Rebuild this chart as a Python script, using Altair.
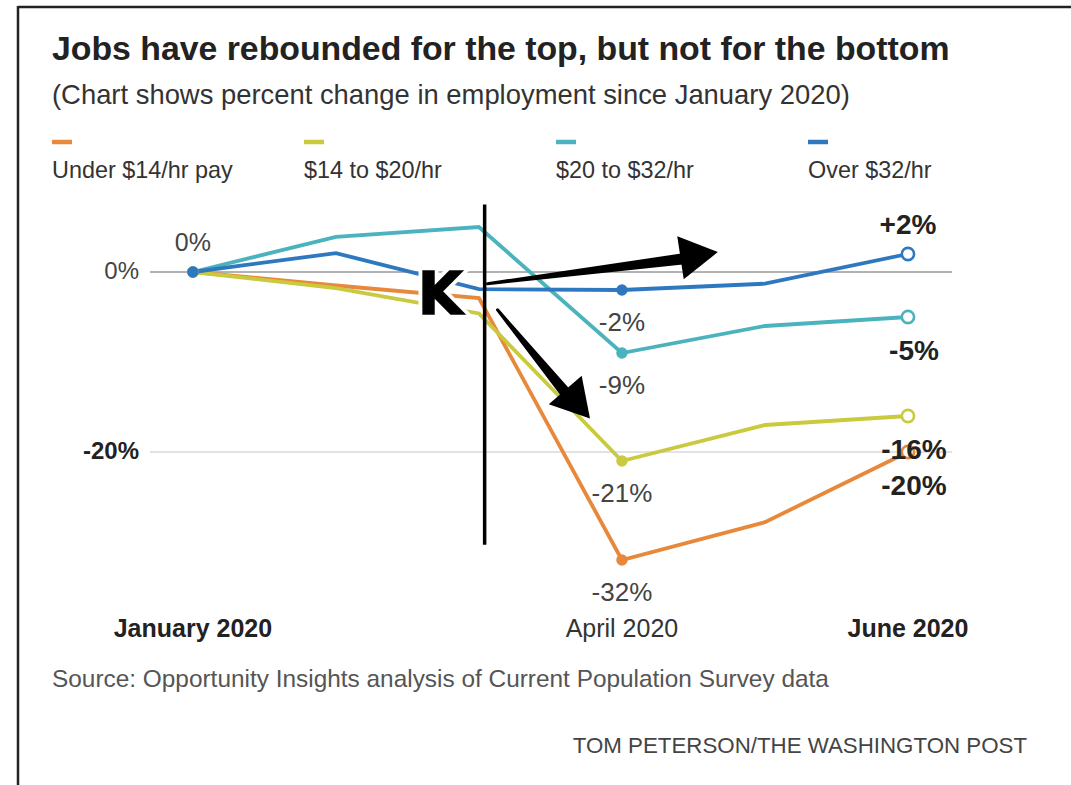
import altair as alt
import pandas as pd

# ---------------- data ----------------
months = [0, 1, 2, 3, 4, 5]
series = ["Under $14/hr pay", "$14 to $20/hr", "$20 to $32/hr", "Over $32/hr"]
colors = ["#e8883a", "#c9ca3e", "#4bb3bd", "#2e78bf"]

under_14 = [0, -1.5, -2.9, -32, -27.8, -20]
from_14_to_20 = [0, -1.8, -4.6, -21, -17, -16]
from_20_to_32 = [0, 3.9, 5.0, -9, -6.0, -5]
over_32 = [0, 2.1, -1.9, -2, -1.3, 2]

x_tick_values = [0, 3, 5]
x_tick_labels = ["January 2020", "April 2020", "June 2020"]
x_tick_bold = [True, False, True]
y_tick_values = [0, -20]
y_tick_labels = ["0%", "-20%"]
y_tick_bold = [False, True]

# point labels
label_month = [0, 3, 3, 3, 3, 5, 5, 5, 5]
label_value = [0, -32, -21, -9, -2, -20, -16, -5, 2]
label_text = ["0%", "-32%", "-21%", "-9%", "-2%", "-20%", "-16%", "-5%", "+2%"]
label_side = ["above", "below", "below", "below", "below", "below", "below", "below", "above"]
label_bold = [False, False, False, False, False, True, True, True, True]

# hand-drawn annotation (in chart units: month index, percent)
vline_month = [2.04]
vline_top = [7.5]
vline_bottom = [-30.3]
arrow_start_month = [2.06, 2.13]
arrow_start_value = [-1.3, -4.2]
arrow_end_month = [3.42, 2.60]
arrow_end_value = [1.45, -13.3]
head_month = [3.54, 2.69]
head_value = [1.9, -14.7]
head_angle = [351.5, 49]
k_month = [1.73]
k_value = [-2.8]
k_text = ["K"]

title_text = ["Jobs have rebounded for the top, but not for the bottom"]
subtitle_text = ["(Chart shows percent change in employment since January 2020)"]
source_text = ["Source: Opportunity Insights analysis of Current Population Survey data"]
credit_text = ["TOM PETERSON/THE WASHINGTON POST"]

# ---------------- tables ----------------
values_by_series = [under_14, from_14_to_20, from_20_to_32, over_32]
rows = []
for s, vals in zip(series, values_by_series):
    for m, v in zip(months, vals):
        rows.append({"series": s, "month": m, "value": v})
df = pd.DataFrame(rows)

labels_df = pd.DataFrame({
    "month": label_month, "value": label_value, "text": label_text,
    "side": label_side, "bold": label_bold,
})
xticks_df = pd.DataFrame({"month": x_tick_values, "text": x_tick_labels, "bold": x_tick_bold})
yticks_df = pd.DataFrame({"value": y_tick_values, "text": y_tick_labels, "bold": y_tick_bold})
legend_df = pd.DataFrame({"series": series, "idx": list(range(len(series)))})
arrow_rows = []
for i in range(len(arrow_start_month)):
    arrow_rows.append({"arrow": i, "o": 0, "month": arrow_start_month[i], "value": arrow_start_value[i], "w": 3})
    arrow_rows.append({"arrow": i, "o": 1, "month": arrow_end_month[i], "value": arrow_end_value[i], "w": 11})
arrows_df = pd.DataFrame(arrow_rows)
one = pd.DataFrame({"a": [0]})

FONT = "Liberation Sans"
xscale = alt.Scale(domain=[-0.3, 5.308], nice=False, zero=False)
yscale = alt.Scale(domain=[-37, 8], nice=False, zero=False)
cscale = alt.Scale(domain=series, range=colors)

X = alt.X("month:Q", scale=xscale, axis=None)
Y = alt.Y("value:Q", scale=yscale, axis=None)
C = alt.Color("series:N", scale=cscale, legend=None)

grid = alt.Chart(pd.DataFrame({"value": y_tick_values, "col": ["#999999", "#e2e2e2"], "w": [1.3, 2.2]})).mark_rule().encode(
    y=Y,
    color=alt.Color("col:N", scale=None),
    strokeWidth=alt.StrokeWidth("w:Q", scale=None),
)

xlab_bold = alt.Chart(xticks_df).transform_filter("datum.bold").mark_text(
    font=FONT, fontSize=25, fontWeight="bold", color="#222", baseline="alphabetic", align="center"
).encode(x=X, y=alt.value(437), text="text:N")
xlab_norm = alt.Chart(xticks_df).transform_filter("!datum.bold").mark_text(
    font=FONT, fontSize=25, fontWeight="normal", color="#333", baseline="alphabetic", align="center"
).encode(x=X, y=alt.value(437), text="text:N")
ylab_bold = alt.Chart(yticks_df).transform_filter("datum.bold").mark_text(
    font=FONT, fontSize=24, fontWeight="bold", color="#222", baseline="middle", align="right"
).encode(x=alt.value(-11), y=Y, text="text:N")
ylab_norm = alt.Chart(yticks_df).transform_filter("!datum.bold").mark_text(
    font=FONT, fontSize=24, fontWeight="normal", color="#444", baseline="middle", align="right"
).encode(x=alt.value(-11), y=Y, text="text:N")

lines = alt.Chart(df).mark_line(strokeWidth=3.8).encode(x=X, y=Y, color=C)

dots = alt.Chart(df).transform_filter("datum.month == 0 || datum.month == 3").mark_circle(size=130, opacity=1).encode(
    x=X, y=Y, color=C,
)
rings = alt.Chart(df).transform_filter("datum.month == 5").mark_point(
    filled=False, fill="white", fillOpacity=1, strokeWidth=2.6, size=150, opacity=1
).encode(x=X, y=Y, color=C)


def label_layer(side, bold, dy, dx, color, size):
    return alt.Chart(labels_df).transform_filter(
        f"datum.side == '{side}' && datum.bold == {'true' if bold else 'false'}"
    ).mark_text(
        dy=dy, dx=dx, baseline="middle", align="center", font=FONT,
        fontSize=size, fontWeight="bold" if bold else "normal", color=color,
    ).encode(x=X, y=Y, text="text:N")


lab1 = label_layer("above", False, -29, 0, "#444", 25)
lab2 = label_layer("below", False, 33, 0, "#444", 26)
lab3 = label_layer("above", True, -28, 0, "#222", 28)
lab4 = label_layer("below", True, 35, 6, "#222", 28)

vline = alt.Chart(pd.DataFrame({"m": vline_month, "t": vline_top, "b": vline_bottom})).mark_rule(
    color="black", strokeWidth=3.5
).encode(x=alt.X("m:Q", scale=xscale, axis=None), y=alt.Y("t:Q", scale=yscale, axis=None), y2="b:Q")

shafts = alt.Chart(arrows_df).mark_trail(color="black").encode(
    x=X, y=Y, detail="arrow:N", order="o:Q", size=alt.Size("w:Q", scale=None, legend=None),
)
heads = alt.Chart(pd.DataFrame({"m": head_month, "v": head_value, "a": head_angle})).mark_point(
    shape="triangle-right", filled=True, color="black", size=1900, opacity=1
).encode(
    x=alt.X("m:Q", scale=xscale, axis=None), y=alt.Y("v:Q", scale=yscale, axis=None),
    angle=alt.Angle("a:Q", scale=None),
)
k_df = pd.DataFrame({"m": k_month, "v": k_value, "t": k_text})
k_halo = alt.Chart(k_df).mark_text(
    font="DejaVu Sans", fontSize=58, fontWeight="bold", color="white", stroke="white", strokeWidth=9,
    baseline="middle", align="center",
).encode(x=alt.X("m:Q", scale=xscale, axis=None), y=alt.Y("v:Q", scale=yscale, axis=None), text="t:N")
k_text_layer = alt.Chart(k_df).mark_text(
    font="DejaVu Sans", fontSize=58, fontWeight="bold", color="black", stroke="black", strokeWidth=1.5,
    baseline="middle", align="center",
).encode(x=alt.X("m:Q", scale=xscale, axis=None), y=alt.Y("v:Q", scale=yscale, axis=None), text="t:N")


def free_text(txt, x, y, size, weight="normal", color="#222", align="left"):
    return alt.Chart(pd.DataFrame({"t": txt})).mark_text(
        font=FONT, fontSize=size, fontWeight=weight, color=color, align=align, baseline="alphabetic",
    ).encode(x=alt.value(x), y=alt.value(y), text="t:N")


title = free_text(title_text, -98, -140, 33.8, "bold", "#222")
subtitle = free_text(subtitle_text, -98, -96, 27.4, "normal", "#333")
source = free_text(source_text, -98, 487, 24.4, "normal", "#555")
credit = free_text(credit_text, 877, 553, 22.3, "normal", "#444", "right")

frame_top = alt.Chart(one).mark_rule(color="#222", strokeWidth=2.5).encode(
    x=alt.value(-132), x2=alt.value(921), y=alt.value(-193))
frame_left = alt.Chart(one).mark_rule(color="#222", strokeWidth=2.5).encode(
    x=alt.value(-132), y=alt.value(-194), y2=alt.value(585))

main = alt.layer(
    grid, xlab_bold, xlab_norm, ylab_bold, ylab_norm,
    lines, dots, rings, lab1, lab2, lab3, lab4,
    vline, shafts, heads, k_halo, k_text_layer,
    title, subtitle, source, credit, frame_top, frame_left,
)

lx = alt.X("idx:Q", scale=alt.Scale(domain=[0, 3], range=[-98, 658], nice=False, zero=False), axis=None)
legend_dash = alt.Chart(legend_df).transform_calculate(idx2="datum.idx + 0.0794").mark_rule(
    strokeWidth=4.5
).encode(x=lx, x2="idx2:Q", y=alt.value(-58), color=C)
legend_text = alt.Chart(legend_df).mark_text(
    font=FONT, fontSize=23.4, color="#333", align="left", baseline="alphabetic"
).encode(x=lx, y=alt.value(-22), text="series:N")
legend = alt.layer(legend_dash, legend_text)

chart = alt.layer(main, legend).resolve_scale(x="independent").properties(
    width=802, height=405,
    padding={"left": 150, "top": 200, "right": 119, "bottom": 180},
    autosize=alt.AutoSizeParams(type="none"),
    background="white",
).configure_view(stroke=None)

chart.save("out.html", embed_options={"renderer": "svg", "actions": False})
